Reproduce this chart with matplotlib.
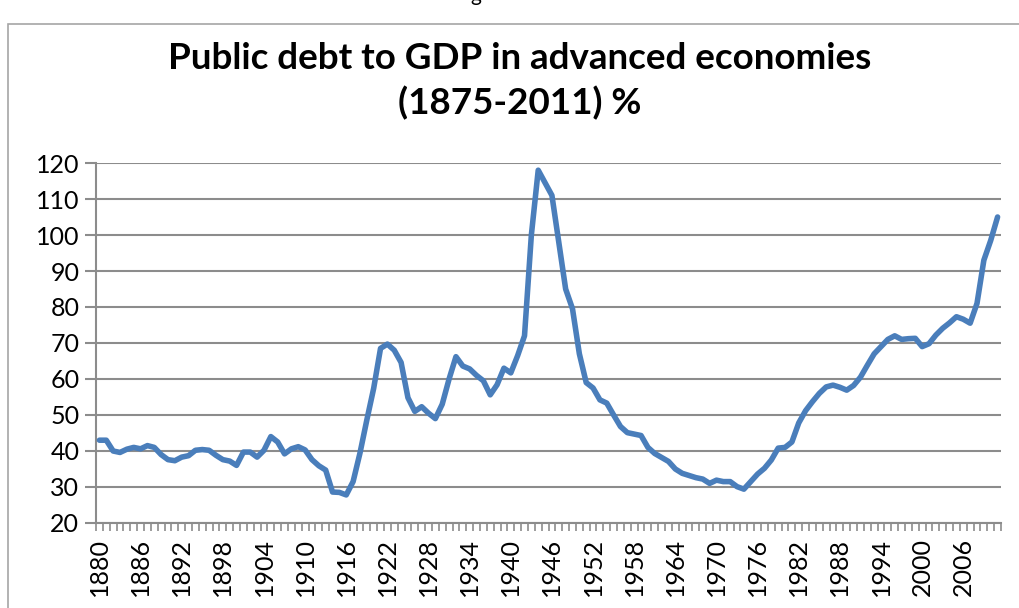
import numpy as np
import matplotlib.pyplot as plt
from matplotlib.patches import Rectangle

# years shown on the category axis
years = list(range(1880, 2012))

# public debt to GDP, % (one value per year)
debt_1880s = [43, 43, 40, 39.6, 40.5, 41, 40.6, 41.5, 41, 39]
debt_1890s = [37.6, 37.3, 38.3, 38.7, 40.2, 40.4, 40.2, 38.8, 37.6, 37.2]
debt_1900s = [36, 39.7, 39.7, 38.3, 40.2, 44, 42.5, 39.2, 40.6, 41.2]
debt_1910s = [40.3, 37.6, 35.9, 34.7, 28.6, 28.5, 27.8, 31.5, 39.4, 48.6]
debt_1920s = [57.4, 68.5, 69.7, 68, 64.6, 54.8, 51, 52.3, 50.5, 49]
debt_1930s = [53, 60, 66.2, 63.6, 62.8, 61, 59.5, 55.6, 58.4, 63]
debt_1940s = [61.7, 66.5, 72, 100, 118, 114.5, 111, 98, 85, 79.5]
debt_1950s = [67, 59, 57.5, 54.2, 53.3, 50, 46.8, 45.1, 44.7, 44.3]
debt_1960s = [41, 39.3, 38.2, 37.1, 35, 33.8, 33.2, 32.6, 32.2, 31]
debt_1970s = [31.9, 31.5, 31.5, 30.1, 29.4, 31.5, 33.6, 35.2, 37.5, 40.8]
debt_1980s = [41, 42.5, 47.8, 51.2, 53.7, 56, 57.8, 58.3, 57.7, 56.9]
debt_1990s = [58.2, 60.5, 63.8, 67, 69, 71, 72, 71, 71.2, 71.3]
debt_2000s = [69, 69.8, 72.2, 74.1, 75.6, 77.3, 76.6, 75.5, 81, 93]
debt_2010s = [98.5, 105]

debt = (debt_1880s + debt_1890s + debt_1900s + debt_1910s + debt_1920s
        + debt_1930s + debt_1940s + debt_1950s + debt_1960s + debt_1970s
        + debt_1980s + debt_1990s + debt_2000s + debt_2010s)

title = 'Public debt to GDP in advanced economies\n(1875-2011) %'
yticks = list(range(20, 121, 10))

W, H = 1019, 608
fig = plt.figure(figsize=(W / 100, H / 100), dpi=100)
fig.patch.set_facecolor('white')

# chart frame (runs off the right and bottom of the image)
fig.patches.append(Rectangle((8 / W, -0.1), 1.2, 1 - 24 / H + 0.1,
                             transform=fig.transFigure, fill=False,
                             edgecolor='#A6A6A6', linewidth=1.2))
# bit of a caption cut off above the frame
fig.text(476 / W, 1 - 1 / H, 'g', ha='center', va='baseline',
         fontsize=15, family='Lato')

ax = fig.add_axes([96 / W, (H - 523) / H, 905 / W, 360 / H])
x = np.arange(len(years))
ax.plot(x, debt, color='#4A7EBB', linewidth=4, solid_joinstyle='round',
        solid_capstyle='round', zorder=3)

ax.set_xlim(-0.5, len(years) - 0.5)
ax.set_ylim(20, 120)
ax.set_yticks(yticks)
ax.set_yticklabels([str(v) for v in yticks])
ax.grid(axis='y', color='#8C8C8C', linewidth=1.5)
ax.set_axisbelow(True)

# category ticks between years, labels every 6 years
ax.set_xticks(np.arange(-0.5, len(years), 1.0), minor=True)
ax.set_xticks(x[::6])
ax.set_xticklabels([str(y) for y in years[::6]], rotation=90)
ax.tick_params(axis='x', which='major', length=0, pad=11)
ax.tick_params(axis='x', which='minor', length=6, width=1.2, color='#8C8C8C')
ax.tick_params(axis='y', length=8, width=1.5, color='#8C8C8C', pad=4)
ax.tick_params(labelsize=18)
for lab in ax.get_xticklabels() + ax.get_yticklabels():
    lab.set_family('Lato')

for s in ['top', 'right']:
    ax.spines[s].set_visible(False)
for s in ['left', 'bottom']:
    ax.spines[s].set_color('#8C8C8C')
    ax.spines[s].set_linewidth(1.5)

fig.text(520 / W, 1 - 81 / H, title, ha='center', va='center',
         fontsize=26.5, fontweight='bold', family='Lato', linespacing=1.4)

fig.savefig('out.png', dpi=100, facecolor='white')
